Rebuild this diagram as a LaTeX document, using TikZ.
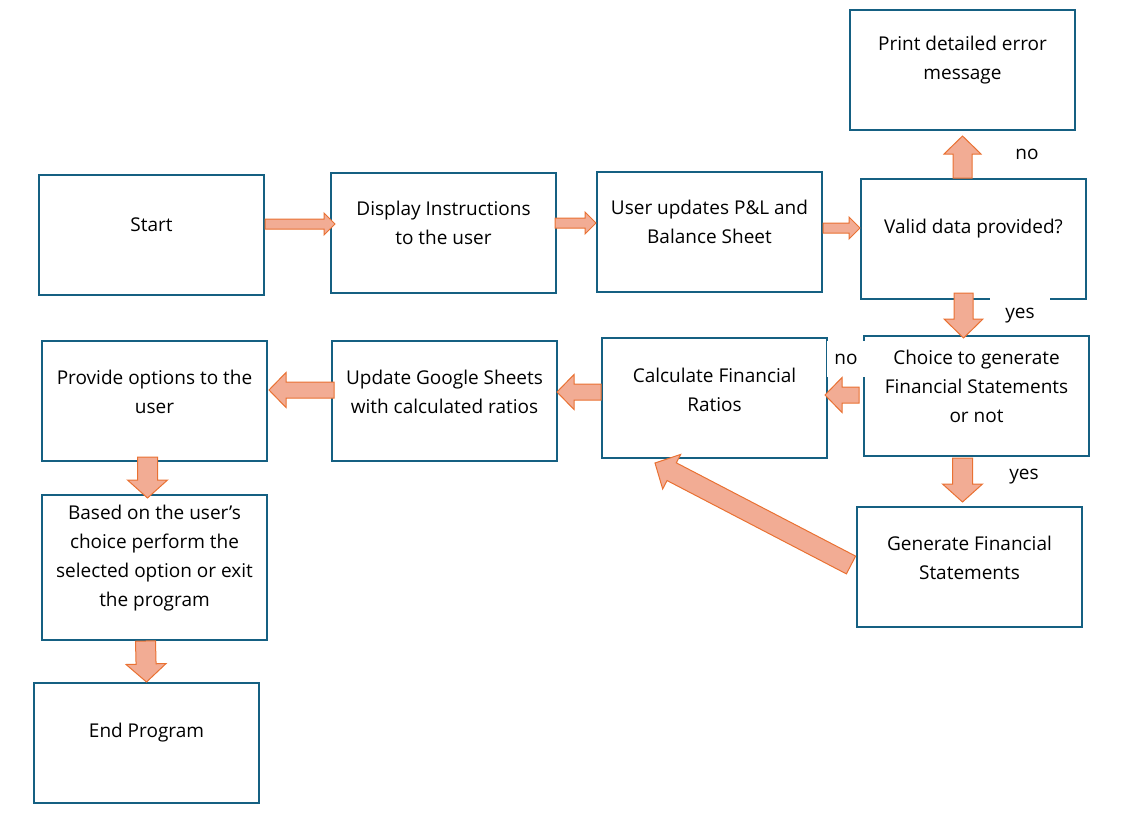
\documentclass[tikz,border=0pt]{standalone}
\usepackage{fontspec}
\setmainfont{Open Sans}
\usetikzlibrary{calc}
\definecolor{boxblue}{RGB}{21,96,130}
\definecolor{arrfill}{RGB}{242,172,148}
\definecolor{arrdraw}{RGB}{233,113,50}
\tikzset{
  box/.style={draw=boxblue, line width=2pt, minimum width=225pt, minimum height=120pt, inner sep=0pt},
  txt/.style={align=center, font=\fontsize{19}{29}\selectfont, inner sep=0pt},
  lbl/.style={font=\fontsize{19}{22}\selectfont, fill=white, inner sep=0pt},
  blk/.style={fill=arrfill, draw=arrdraw, line width=1pt, line join=miter},
}
% #1 start, #2 end, #3 half shaft, #4 half head, #5 head length
\newcommand\blockarrow[5]{%
  \coordinate (ba-s) at #1;
  \coordinate (ba-t) at #2;
  \coordinate (ba-b) at ($(ba-t)!#5!(ba-s)$);
  \draw[blk] ($(ba-s)!#3!90:(ba-t)$) -- ($(ba-b)!#3!90:(ba-t)$) -- ($(ba-b)!#4!90:(ba-t)$)
    -- (ba-t) -- ($(ba-b)!#4!-90:(ba-t)$) -- ($(ba-b)!#3!-90:(ba-t)$) -- ($(ba-s)!#3!-90:(ba-t)$) -- cycle;
}
\begin{document}
\begin{tikzpicture}[x=1pt, y=-1pt]
\useasboundingbox (0,0) rectangle (1145,814);
% boxes
\node[box] (start) at (151.5,235) {};
\node[box] (disp) at (443.5,233) {};
\node[box] (upd) at (709.5,232) {};
\node[box] (valid) at (973.5,239) {};
\node[box] (print) at (962.5,70) {};
\node[box] (choice) at (976.5,396) {};
\node[box] (calcr) at (714.5,398) {};
\node[box] (gsheet) at (444.5,401) {};
\node[box] (prov) at (154.5,401) {};
\node[box, minimum height=145pt] (based) at (154.5,567.5) {};
\node[box] (gen) at (969.5,567) {};
\node[box] (endp) at (146.5,743) {};
% texts
\node[txt] (start-t) at ($(start)+(0,-10)$) {Start};
\node[txt] (disp-t) at ($(disp)+(0,-10)$) {Display Instructions\\to the user};
\node[txt] (upd-t) at ($(upd)+(0,-10)$) {User updates P\&L and\\Balance Sheet};
\node[txt] (valid-t) at ($(valid)+(0,-10)$) {Valid data provided?};
\node[txt] (print-t) at ($(print)+(0,-10)$) {Print detailed error\\message};
\node[txt] (choice-t) at ($(choice)+(0,-10)$) {Choice to generate\\Financial Statements\\or not};
\node[txt] (calcr-t) at ($(calcr)+(0,-8)$) {Calculate Financial\\Ratios};
\node[txt] (gsheet-t) at ($(gsheet)+(0,-9)$) {Update Google Sheets\\with calculated ratios};
\node[txt] (prov-t) at ($(prov)+(0,-9)$) {Provide options to the\\user};
\node[txt] (based-t) at ($(based)+(0,-9)$) {Based on the user’s\\choice perform the\\selected option or exit\\the program};
\node[txt] (gen-t) at ($(gen)+(0,-9)$) {Generate Financial\\Statements};
\node[txt] (endp-t) at ($(endp)+(0,-10)$) {End Program};
% labels
\node[lbl] (l-no1) at (1027,154) {no};
\node[lbl, minimum width=60pt, minimum height=38pt] (l-yes1) at (1020,316) {yes};
\node[lbl, minimum width=38pt, minimum height=36pt] (l-no2) at (846,359) {no};
\node[lbl] (l-yes2) at (1024,477) {yes};
% arrows
\blockarrow{($(start.east)+(0,-11)$)}{($(disp.west)+(5,-9)$)}{5pt}{11pt}{11pt}
\blockarrow{($(disp.east)+(-2,-10)$)}{($(upd.west)+(0,-9)$)}{5pt}{11pt}{11pt}
\blockarrow{($(upd.east)+(0,-4)$)}{($(valid.west)+(0,-11)$)}{5pt}{11pt}{11pt}
\blockarrow{($(valid.north)+(-11,0)$)}{($(print.south)+(0,5)$)}{9.5pt}{18.5pt}{18pt}
\blockarrow{($(valid.south)+(-10,-7)$)}{($(choice.north)+(-13,3)$)}{9.5pt}{19.5pt}{19pt}
\blockarrow{($(choice.west)+(-4,-1)$)}{($(calcr.east)+(-3,-3)$)}{8pt}{17.5pt}{17pt}
\blockarrow{($(calcr.west)+(0,-6)$)}{($(gsheet.east)+(-1,-9)$)}{8pt}{17.5pt}{17pt}
\blockarrow{($(gsheet.west)+(3,-11)$)}{($(prov.east)+(1,-11)$)}{8pt}{17.5pt}{17pt}
\blockarrow{($(prov.south)+(-7,-5)$)}{($(based.north)+(-7,4)$)}{10pt}{20pt}{18pt}
\blockarrow{($(based.south)+(-9,0)$)}{($(endp.north)+(0,0)$)}{10pt}{20pt}{18pt}
\blockarrow{($(choice.south)+(-14,1)$)}{($(gen.north)+(-7,-4)$)}{10pt}{20pt}{18pt}
\blockarrow{($(gen.west)+(-5,-2)$)}{($(calcr.south west)+(54,4)$)}{10pt}{19.5pt}{18.8pt}
\end{tikzpicture}
\end{document}
